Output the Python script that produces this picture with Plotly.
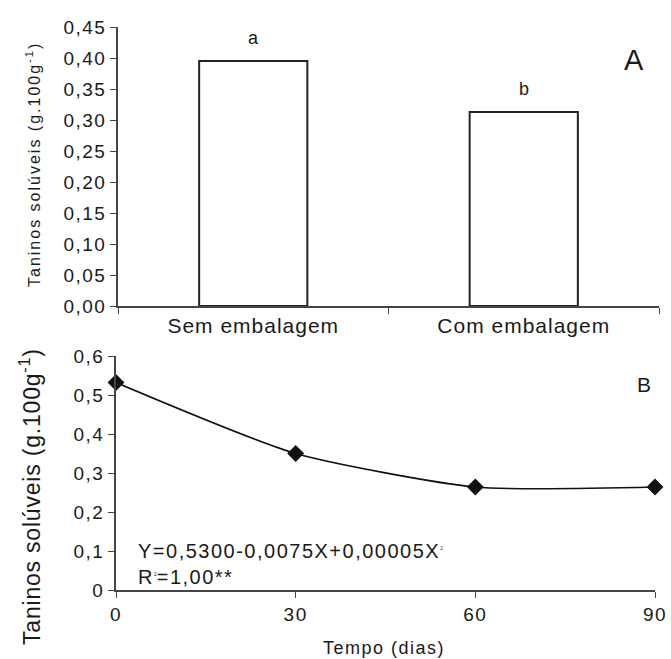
import plotly.graph_objects as go

# ---- data ----
categorias = ["Sem embalagem", "Com embalagem"]
taninos_emb = [0.395, 0.313]
letras = ["a", "b"]

tempo = [0, 30, 60, 90]
taninos_tempo = [0.532, 0.350, 0.264, 0.264]

yA_ticks = [0, 0.05, 0.10, 0.15, 0.20, 0.25, 0.30, 0.35, 0.40, 0.45]
yA_text = ["0,00", "0,05", "0,10", "0,15", "0,20", "0,25", "0,30", "0,35", "0,40", "0,45"]
yB_ticks = [0, 0.1, 0.2, 0.3, 0.4, 0.5, 0.6]
yB_text = ["0", "0,1", "0,2", "0,3", "0,4", "0,5", "0,6"]
xB_ticks = [0, 30, 60, 90]
xB_text = ["0", "30", "60", "90"]

FONT = "Liberation Sans, Arial, sans-serif"
TXT = "#1a1a1a"
AX = "#444444"

def sp(t, s):
    return "<span style='letter-spacing:%spx'>%s</span>" % (s, t)

fig = go.Figure()

fig.add_trace(go.Bar(
    x=categorias, y=taninos_emb, width=0.4,
    marker=dict(color="white", line=dict(color="#222222", width=2)),
    xaxis="x", yaxis="y", showlegend=False,
))

fig.add_trace(go.Scatter(
    x=tempo, y=taninos_tempo, mode="lines+markers",
    line=dict(color="#111111", width=1.6, shape="spline", smoothing=0.6),
    marker=dict(symbol="diamond", size=13, color="#111111"),
    xaxis="x2", yaxis="y2", showlegend=False, cliponaxis=False,
))

W, H = 671, 659

def px_x(p):
    return p / W

def px_y(p):
    return (H - p) / H

common = dict(showline=True, linecolor=AX, linewidth=1.5, ticks="outside",
              ticklen=6, tickcolor=AX, showgrid=False, zeroline=False,
              automargin=False)

fig.update_layout(
    template="none",
    width=W, height=H,
    margin=dict(l=0, r=0, t=0, b=0, autoexpand=False),
    plot_bgcolor="white", paper_bgcolor="white",
    font=dict(family=FONT, color=TXT),
    xaxis=dict(
        domain=[px_x(118), px_x(659)], anchor="y",
        type="category", range=[-0.5, 1.5], tickson="boundaries",
        ticktext=[sp(c, 1) for c in categorias], tickvals=categorias,
        tickfont=dict(size=21, color=TXT, family=FONT), **common,
    ),
    yaxis=dict(
        domain=[px_y(306), px_y(27)], anchor="x",
        range=[0, 0.45], tickvals=yA_ticks,
        ticktext=[sp(t, 1.5) for t in yA_text],
        tickfont=dict(size=19, color=TXT, family=FONT), **common,
    ),
    xaxis2=dict(
        domain=[px_x(116), px_x(655)], anchor="y2",
        range=[0, 90], tickvals=xB_ticks,
        ticktext=[sp(t, 1.5) for t in xB_text],
        tickfont=dict(size=19, color=TXT, family=FONT), **common,
    ),
    yaxis2=dict(
        domain=[px_y(590), px_y(356)], anchor="x2",
        range=[0, 0.6], tickvals=yB_ticks,
        ticktext=[sp(t, 1.5) for t in yB_text],
        tickfont=dict(size=19, color=TXT, family=FONT), **common,
    ),
)

ann = []
for c, v, l in zip(categorias, taninos_emb, letras):
    ann.append(dict(x=c, y=v, xref="x", yref="y", text=l, showarrow=False,
                    xanchor="center", yanchor="middle",
                    yshift=23, font=dict(size=18, color=TXT)))

def pann(x, y, text, size, xanchor="center", yanchor="middle", angle=0):
    return dict(x=px_x(x), y=px_y(y), xref="paper", yref="paper", text=text,
                showarrow=False, xanchor=xanchor, yanchor=yanchor,
                textangle=angle, font=dict(size=size, color=TXT))

ann.append(pann(634, 60, "A", 29))
ann.append(pann(644, 384, "B", 21))

ann.append(pann(33, 165, sp("Taninos solúveis (g.100g<sup>-1</sup>)", 2), 16, angle=-90))
ann.append(pann(30, 497, sp("Taninos solúveis (g.100g<sup>-1</sup>)", 0.8), 23, angle=-90))

ann.append(pann(384, 648, sp("Tempo (dias)", 1.5), 18))

ann.append(pann(136, 551,
                sp("Y=0,5300-0,0075X+0,00005X", 1.5) + "<sup><span style='font-size:5px'>2</span></sup>",
                20, xanchor="left"))
ann.append(pann(136, 577,
                sp("R", 1.5) + "<sup><span style='font-size:5px'>2</span></sup>" + sp("=1,00**", 1.5),
                20, xanchor="left"))

fig.update_layout(annotations=ann)

fig.write_html(
    "out.html",
    config={"displayModeBar": False},
    post_script="document.body.style.margin='0';document.body.style.overflow='hidden';",
)
